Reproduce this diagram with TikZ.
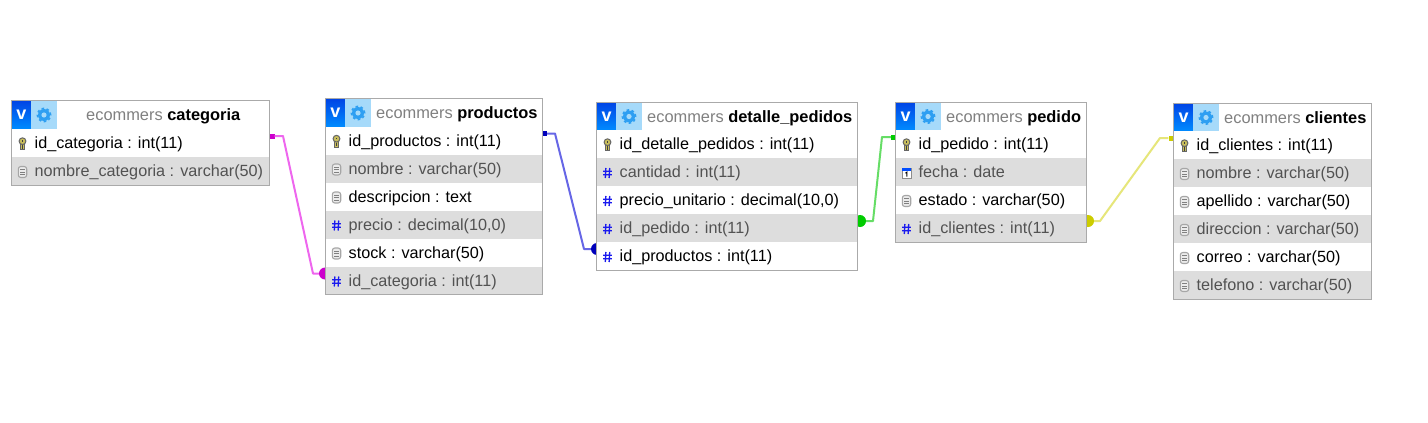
\documentclass[tikz,border=0pt]{standalone}
\usepackage{fontspec}
\setmainfont{Liberation Sans}
\definecolor{framegray}{HTML}{AAAAAA}
\definecolor{rowgray}{HTML}{DDDDDD}
\definecolor{gearblue}{HTML}{2E9FF2}
\definecolor{gearback}{HTML}{A6DAFA}
\definecolor{hashblue}{HTML}{1A1AEE}
\definecolor{keygold}{HTML}{C9BE5A}
\definecolor{magline}{HTML}{EE66EE}
\definecolor{magmark}{HTML}{CC00CC}
\definecolor{blueline}{HTML}{6666E6}
\definecolor{bluemark}{HTML}{0000BB}
\definecolor{greenline}{HTML}{66DD66}
\definecolor{greenmark}{HTML}{00CC00}
\definecolor{yellowline}{HTML}{E6E67A}
\definecolor{yellowmark}{HTML}{CCCC00}
\tikzset{
  tablebox/.style={draw=framegray, line width=1pt, fill=white, anchor=north west, inner sep=0pt, outer sep=0pt},
  rowbox/.style={anchor=north west, inner sep=0pt, outer sep=0pt, minimum height=28pt},
  rowlabel/.style={anchor=base west, inner sep=0pt, font=\fontsize{16.2}{18}\selectfont},
  titlelabel/.style={anchor=base west, inner sep=0pt, font=\fontsize{16.4}{18}\selectfont},
  onemark/.style={rectangle, inner sep=0pt, minimum size=5pt},
  manymark/.style={circle, inner sep=0pt, minimum size=12pt},
  link/.style={line width=2pt, line join=round},
  dbkey/.pic={
    \draw[black!60, fill=keygold, line width=1pt] (-1.8,-1) rectangle (1.8,5.5);
    \draw[black!60, fill=keygold, line width=1pt] (0,-2.8) circle[radius=3.4pt];
    \fill[black!75] (-0.8,-3.6) rectangle (0.8,-2.2);
    \fill[black!75] (-0.6,1) rectangle (0.6,4.5);
  },
  dbdoc/.pic={
    \draw[black!35, fill=black!8, line width=1.1pt, rounded corners=2.5pt] (-4.2,-5.5) rectangle (4.2,5.5);
    \foreach \yy in {-2.5,0,2.5} \draw[black!50, line width=0.8pt] (-2.2,\yy) -- (2.2,\yy);
  },
  dbhash/.pic={
    \draw[hashblue, line width=1.3pt] (-1.6,-5) -- (-2.2,5) (2.2,-5) -- (1.6,5) (-4.3,-1.8) -- (4.3,-1.8) (-4.3,1.8) -- (4.3,1.8);
  },
  dbdate/.pic={
    \draw[black!45, fill=white, line width=1pt] (-4.5,-5) rectangle (4.5,5);
    \fill[blue!70!cyan] (-4.5,-5) rectangle (4.5,-2);
    \draw[black, line width=1pt] (-1,0.2) -- (0.3,-0.8) -- (0.3,3.5);
  },
}
\newcommand{\dbtable}[7]{
  \node[tablebox, minimum width=#4 pt, minimum height=28pt+#7 pt] (#1) at (#2,#3) {};
  \node[rowbox, minimum width=19pt, top color=blue!70!cyan!90!black, bottom color=blue!45!cyan] (#1v) at (#2+0.5,#3+0.5) {};
  \node[rowbox, minimum width=26pt, fill=gearback] (#1cfg) at (#2+19.5,#3+0.5) {};
  \node[anchor=center, inner sep=0pt, text=white, font=\fontsize{18}{18}\bfseries] (#1vtxt) at (#1v.center) {v};
  \fill[gearblue] (#1cfg.center) circle[radius=6pt];
  \draw[gearblue, line width=1.6pt, dash pattern=on 2.55pt off 2.55pt] (#1cfg.center) circle[radius=6.6pt];
  \fill[gearback] (#1cfg.center) circle[radius=2.6pt];
  \node[titlelabel] (#1title) at (#2+#5,#3+20) {\textcolor{black!50}{ecommers} \textbf{#6}};
}
\newcommand{\dbrows}[4]{
  \foreach \ic/\lab [count=\n] in {#4} {
    \ifodd\n \def\rowfill{white}\def\rowtext{black}\else \def\rowfill{rowgray}\def\rowtext{black!68}\fi
    \node[rowbox, fill=\rowfill, minimum width=#3 pt - 1pt] (#1bg\n) at (#2+0.5,\rowtop+28*\n) {};
    \pic at (#2+11,\rowtop+28*\n+15) {\ic};
    \node[rowlabel, text=\rowtext] (#1row\n) at (#2+23,\rowtop+28*\n+19.5) {\lab};
  }
  \draw[framegray, line width=1pt] (#1.north west) rectangle (#1.south east);
}
\begin{document}
\begin{tikzpicture}[x=1pt, y=-1pt]
  \useasboundingbox[fill=white] (0,0) rectangle (1428,423);

  % connectors first, the tables cover half of each round end
  \node[onemark, fill=magmark] (catone) at (272,136) {};
  \node[manymark, fill=magmark] (prodmany) at (325,273.5) {};
  \draw[magline, link] (catone) -- (283,136) -- (313,273.5) -- (prodmany);

  \node[onemark, fill=bluemark] (prodone) at (544.5,133.5) {};
  \node[manymark, fill=bluemark] (detmany) at (597,249) {};
  \draw[blueline, link] (prodone) -- (555,133.5) -- (584,249) -- (detmany);

  \node[manymark, fill=greenmark] (detgreen) at (860,221) {};
  \node[onemark, fill=greenmark] (pedone) at (893.5,137) {};
  \draw[greenline, link] (detgreen) -- (873,221) -- (882,137) -- (pedone);

  \node[manymark, fill=yellowmark] (pedmany) at (1088,221) {};
  \node[onemark, fill=yellowmark] (cliOne) at (1171,138) {};
  \draw[yellowline, link] (pedmany) -- (1100,221) -- (1160,138) -- (cliOne);

  \dbtable{categoria}{11.5}{100.5}{258}{74.5}{categoria}{57}
  \def\rowtop{101}
  \dbrows{categoria}{11.5}{258}{dbkey/{id\_categoria : int(11)}, dbdoc/{nombre\_categoria : varchar(50)}}

  \dbtable{productos}{325.5}{98.5}{217}{50.5}{productos}{168}
  \def\rowtop{98.5}
  \dbrows{productos}{325.5}{217}{dbkey/{id\_productos : int(11)}, dbdoc/{nombre : varchar(50)}, dbdoc/{descripcion : text}, dbhash/{precio : decimal(10,0)}, dbdoc/{stock : varchar(50)}, dbhash/{id\_categoria : int(11)}}

  \dbtable{detalle}{596.5}{102}{261}{50.5}{detalle\_pedidos}{140}
  \def\rowtop{102}
  \dbrows{detalle}{596.5}{261}{dbkey/{id\_detalle\_pedidos : int(11)}, dbhash/{cantidad : int(11)}, dbhash/{precio\_unitario : decimal(10,0)}, dbhash/{id\_pedido : int(11)}, dbhash/{id\_productos : int(11)}}

  \dbtable{pedido}{895.5}{102}{191}{50.5}{pedido}{112}
  \def\rowtop{102}
  \dbrows{pedido}{895.5}{191}{dbkey/{id\_pedido : int(11)}, dbdate/{fecha : date}, dbdoc/{estado : varchar(50)}, dbhash/{id\_clientes : int(11)}}

  \dbtable{clientes}{1173.5}{103}{198}{50.5}{clientes}{168}
  \def\rowtop{103}
  \dbrows{clientes}{1173.5}{198}{dbkey/{id\_clientes : int(11)}, dbdoc/{nombre : varchar(50)}, dbdoc/{apellido : varchar(50)}, dbdoc/{direccion : varchar(50)}, dbdoc/{correo : varchar(50)}, dbdoc/{telefono : varchar(50)}}
\end{tikzpicture}
\end{document}
